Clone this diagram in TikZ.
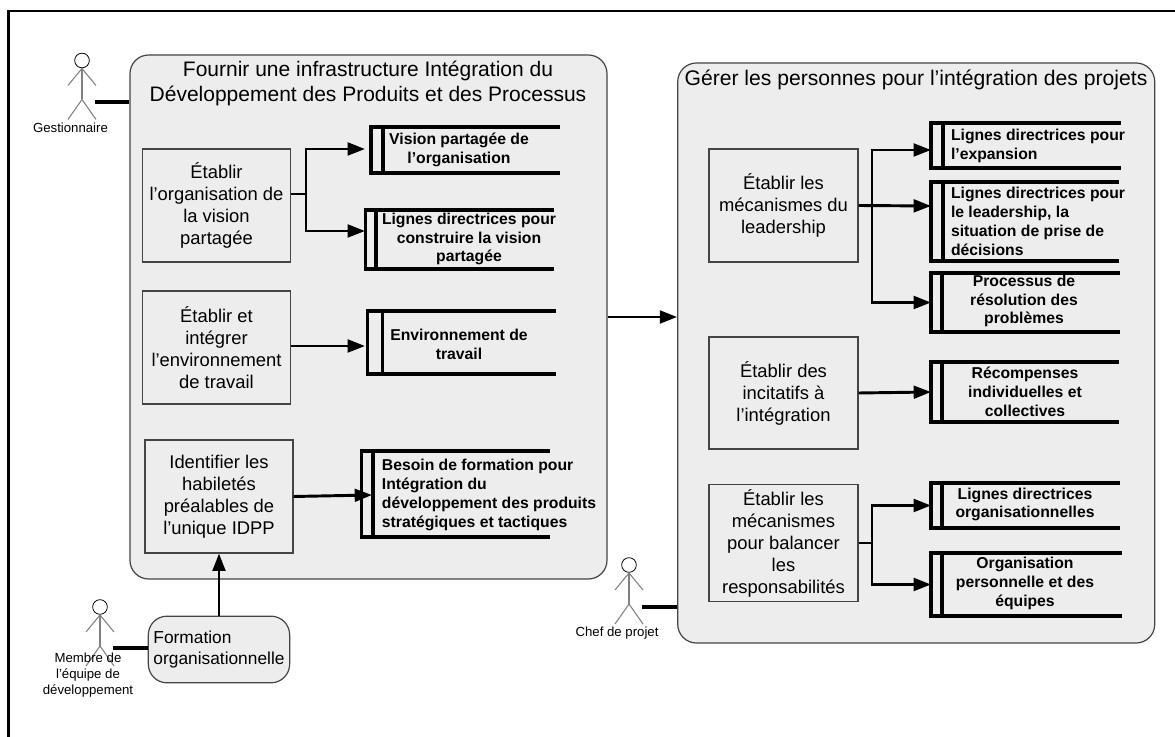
\documentclass[tikz,border=0pt]{standalone}
\usepackage{xcolor}
\usepackage{fontspec}
\setmainfont{Liberation Sans}
\usetikzlibrary{arrows.meta}

\definecolor{fondgris}{HTML}{EDEDED}
\definecolor{traitgris}{HTML}{444444}

\tikzset{
  groupe/.style={draw=traitgris, line width=0.9pt, fill=fondgris, rounded corners=14pt},
  activite/.style={draw=traitgris, line width=0.8pt, fill=fondgris, align=center, font=\fontsize{13.8}{16.5}\selectfont},
  titre/.style={align=center, font=\fontsize{15.75}{18.75}\selectfont},
  depot/.style={inner sep=0pt, outer sep=0pt},
  depottexte/.style={align=center, font=\fontsize{11.8}{14.2}\selectfont\bfseries},
  acteur/.style={align=center, font=\fontsize{9.9}{11.8}\selectfont},
  fleche/.style={line width=2.2pt, -{Triangle[length=13pt,width=9.5pt]}},
  lien/.style={line width=2.2pt},
  assoc/.style={line width=3pt},
}

% Depot de donnees : nom, gauche, trait interieur, droite, haut, bas
\newcommand{\depotdonnees}[6]{
  \node[depot, minimum width={(#4-#2)*0.75pt}, minimum height={(#6-#5)*0.75pt}] (#1) at ({(#2+#4)/2},{(#5+#6)/2}) {};
  \draw[line width=2.6pt] (#1.north east) -- (#1.north west) -- (#1.south west) -- (#1.south east);
  \draw[line width=2.6pt] (#3,#5) -- (#3,#6);
}

% Personnage : nom, x, y de la tete
\newcommand{\personnage}[3]{
  \node[circle, draw=black, fill=white, line width=0.6pt, minimum size=11pt, inner sep=0pt] (#1) at (#2,#3) {};
  \draw[gray, line width=0.8pt] (#1.south) -- (#2,#3+39);
  \draw[gray, line width=0.8pt] (#2-14,#3+25) -- (#2,#3+8) -- (#2+14,#3+25);
  \draw[gray, line width=0.8pt] (#2-14,#3+59) -- (#2,#3+39) -- (#2+14,#3+59);
}

\begin{document}
\begin{tikzpicture}[x=0.75pt, y=-0.75pt]

\useasboundingbox (0,0) rectangle (1175,737);

% Cadre
\draw[line width=1.7pt] (8.5,737) -- (8.5,11) -- (1175,11);

% Grands blocs
\node[groupe, minimum width=357.75pt, minimum height=393pt] (infra) at (368.5,317) {};
\node[groupe, minimum width=357.75pt, minimum height=435pt] (gerer) at (916.25,353) {};
\node[titre] (infratitre) at (368,83.5) {Fournir une infrastructure Intégration du\\Développement des Produits et des Processus};
\node[titre, font=\fontsize{15.85}{19}\selectfont] (gerertitre) at (916,80) {Gérer les personnes pour l’intégration des projets};

% Activites du premier bloc
\node[activite, minimum width=111pt, minimum height=84.75pt] (e1) at (216.5,205.5) {Établir\\l’organisation de\\la vision\\partagée};
\node[activite, minimum width=111pt, minimum height=84.75pt] (e2) at (216.5,347.5) {Établir et\\intégrer\\l’environnement\\de travail};
\node[activite, minimum width=111pt, minimum height=84.75pt] (e3) at (219,496.5) {Identifier les\\habiletés\\préalables de\\l’unique IDPP};

% Activites du second bloc
\node[activite, minimum width=111.75pt, minimum height=84.75pt] (e4) at (783.5,205.5) {Établir les\\mécanismes du\\leadership};
\node[activite, minimum width=111.75pt, minimum height=84pt] (e5) at (783.5,393) {Établir des\\incitatifs à\\l’intégration};
\node[activite, minimum width=111.75pt, minimum height=84pt] (e6) at (783.5,543) {Établir les\\mécanismes\\pour balancer\\les\\responsabilités};

% Formation
\node[draw=traitgris, line width=0.9pt, fill=fondgris, rounded corners=14pt, minimum width=106pt, minimum height=50pt, align=left, font=\fontsize{13}{16}\selectfont] (formation) at (219,649.5) {Formation\\organisationnelle};

% Depots du premier bloc
\depotdonnees{d1}{371}{383}{560}{127}{173}
\depotdonnees{d2}{365.5}{376}{554}{210}{269}
\depotdonnees{d3}{367.5}{382.5}{556}{311}{374}
\depotdonnees{d4}{361.5}{373}{550}{451}{537}
\node[depottexte] (d1t) at (459,149.5) {Vision partagée de\\l’organisation};
\node[depottexte] (d2t) at (469,239) {Lignes directrices pour\\construire la vision\\partagée};
\node[depottexte] (d3t) at (459,344) {Environnement de\\travail};
\node[depottexte, align=left] (d4t) at (489,495) {Besoin de formation pour\\Intégration du\\développement des produits\\stratégiques et tactiques};

% Depots du second bloc
\depotdonnees{r1}{931}{943}{1121}{123}{168}
\depotdonnees{r2}{931}{943}{1119}{182}{261}
\depotdonnees{r3}{931}{942}{1120}{273}{332}
\depotdonnees{r4}{931}{942}{1119}{362}{422}
\depotdonnees{r5}{931}{942}{1120}{483}{528}
\depotdonnees{r6}{931}{942}{1122}{553}{616}
\node[depottexte, align=left] (r1t) at (1038,146) {Lignes directrices pour\\l’expansion};
\node[depottexte, align=left] (r2t) at (1038,221.5) {Lignes directrices pour\\le leadership, la\\situation de prise de\\décisions};
\node[depottexte] (r3t) at (1024,301) {Processus de\\résolution des\\problèmes};
\node[depottexte] (r4t) at (1025,392) {Récompenses\\individuelles et\\collectives};
\node[depottexte] (r5t) at (1025,504.5) {Lignes directrices\\organisationnelles};
\node[depottexte] (r6t) at (1025,583) {Organisation\\personnelle et des\\équipes};

% Points de jonction
\coordinate (j1) at (306,194);
\coordinate (p1) at (365,149);
\coordinate (p2) at (365,231);
\coordinate (p3) at (365,346);
\coordinate (p6) at (372,495);
\coordinate (j4) at (872,206);
\coordinate (p4) at (931,150);
\coordinate (p5) at (931,206);
\coordinate (j6) at (872,543);

% Fleches
\draw[lien] (e1.east |- j1) -- (j1);
\draw[fleche] (j1) |- (p1);
\draw[fleche] (j1) |- (p2);
\draw[fleche] (e2.east |- p3) -- (p3);
\draw[fleche] (e3.east) -- (p6);
\draw[fleche] (formation.north -| e3) -- (e3.south);
\draw[fleche] (infra.east) -- (infra.east -| gerer.west);
\draw[fleche] (e4.east) -- (p5);
\draw[fleche] (j4) |- (p4);
\draw[fleche] (j4) |- (r3.west);
\draw[fleche] (e5.east) -- (r4.west);
\draw[lien] (e6.east) -- (j6);
\draw[fleche] (j6) |- (r5.west);
\draw[fleche] (j6) |- (r6.west);

% Acteurs
\personnage{a1}{82}{60.5}
\personnage{a2}{100}{607}
\personnage{a3}{629}{565}
\node[acteur] (a1t) at (70.5,128) {Gestionnaire};
\node[acteur] (a2t) at (88,675) {Membre de\\l’équipe de\\développement};
\node[acteur] (a3t) at (617,633) {Chef de projet};
\coordinate (c1) at (95,102);
\coordinate (c2) at (113,648);
\coordinate (c3) at (641.5,607);
\draw[assoc] (c1) -- (c1 -| infra.west);
\draw[assoc] (c2) -- (c2 -| formation.west);
\draw[assoc] (c3) -- (c3 -| gerer.west);

\end{tikzpicture}
\end{document}
